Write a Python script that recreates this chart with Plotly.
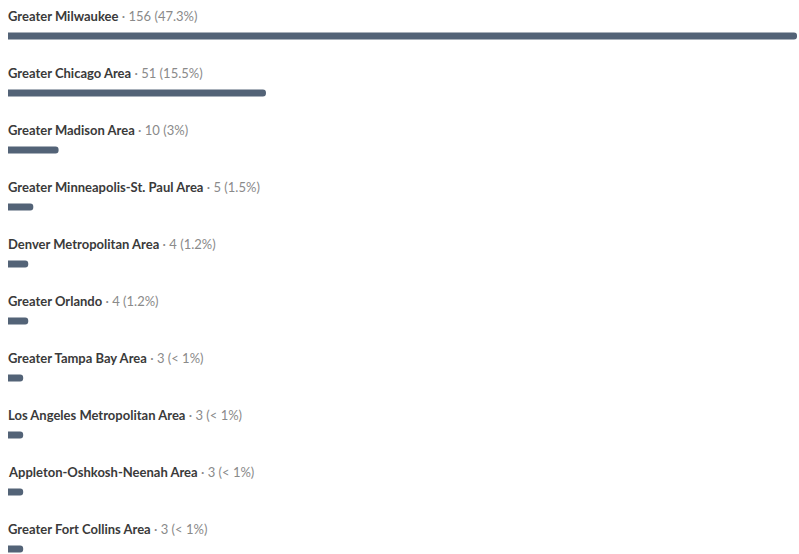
import plotly.graph_objects as go

categories = [
    "Greater Milwaukee",
    "Greater Chicago Area",
    "Greater Madison Area",
    "Greater Minneapolis-St. Paul Area",
    "Denver Metropolitan Area",
    "Greater Orlando",
    "Greater Tampa Bay Area",
    "Los Angeles Metropolitan Area",
    "Appleton-Oshkosh-Neenah Area",
    "Greater Fort Collins Area",
]
counts = [156, 51, 10, 5, 4, 4, 3, 3, 3, 3]
pct_labels = ["47.3%", "15.5%", "3%", "1.5%", "1.2%", "1.2%", "< 1%", "< 1%", "< 1%", "< 1%"]

BAR_COLOR = "#536377"
W, H = 799, 554
slot = 57.0
first_center = 36.0

idx = list(range(len(categories)))

fig = go.Figure()
fig.add_trace(go.Bar(
    x=counts, y=idx, orientation="h",
    marker=dict(color=BAR_COLOR, cornerradius=3, line=dict(width=0)),
    width=7 / slot,
    hoverinfo="skip",
))

annotations = []
for i, (c, n, p) in enumerate(zip(categories, counts, pct_labels)):
    annotations.append(dict(
        x=0, xref="paper", xanchor="left", xshift=-2,
        y=i - 20 / slot, yref="y", yanchor="middle",
        text=f"<b>{c}</b><span style='color:#8a8a8a'> · {n} ({p})</span>",
        showarrow=False,
        font=dict(family="Lato", size=13, color="#3a3a3a"),
    ))

top = -first_center / slot
bottom = (len(categories) - 1) + (H - (first_center + slot * (len(categories) - 1))) / slot

fig.update_layout(
    width=W, height=H,
    margin=dict(l=8, r=2, t=0, b=0),
    paper_bgcolor="white", plot_bgcolor="white",
    showlegend=False,
    annotations=annotations,
    xaxis=dict(range=[0, max(counts)], visible=False, fixedrange=True),
    yaxis=dict(range=[bottom, top], visible=False, fixedrange=True),
)

fig.write_html(
    "out.html",
    config={"displayModeBar": False},
    post_script="document.body.style.margin='0';document.body.style.overflow='hidden';",
)
